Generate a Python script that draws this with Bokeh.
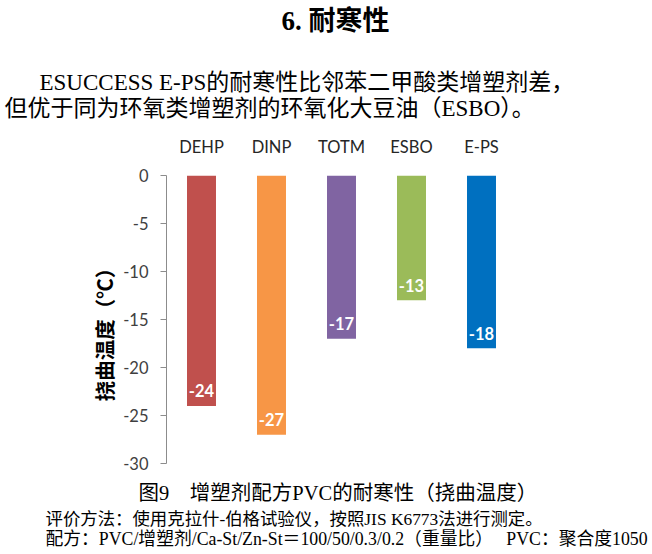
from bokeh.plotting import figure
from bokeh.models import ColumnDataSource, FactorRange, Range1d, FixedTicker, Label
from bokeh.core.properties import value
from bokeh.embed import file_html
from bokeh.resources import INLINE
import math

# ---- data ----
categories = ["DEHP", "DINP", "TOTM", "ESBO", "E-PS"]
temps = [-24, -27, -17, -13, -18]
bar_colors = ["#C0504D", "#F79646", "#8064A2", "#9BBB59", "#0070C0"]
y_ticks = [0, -5, -10, -15, -20, -25, -30]

title_text = "6. 耐寒性"
para_line1 = "ESUCCESS E-PS的耐寒性比邻苯二甲酸类增塑剂差，"
para_line2 = "但优于同为环氧类增塑剂的环氧化大豆油（ESBO）。"
y_label = "挠曲温度（℃）"
caption = "图9　增塑剂配方PVC的耐寒性（挠曲温度）"
note1 = "评价方法：使用克拉什-伯格试验仪，按照JIS K6773法进行测定。"
note2 = "配方：PVC/增塑剂/Ca-St/Zn-St＝100/50/0.3/0.2（重量比）　 PVC：聚合度1050"

SERIF = "Liberation Serif, Noto Sans CJK SC"

src = ColumnDataSource(dict(
    cat=categories,
    val=temps,
    color=bar_colors,
    label=[str(v) for v in temps],
))

W, H = 652, 554
ML, MT, FW, FH = 166, 175, 350, 288

p = figure(
    width=W, height=H,
    x_range=FactorRange(*categories),
    y_range=Range1d(-30, 0),
    x_axis_location="above",
    output_backend="svg",
    toolbar_location=None,
    min_border_left=ML, min_border_top=MT,
    min_border_right=W - ML - FW, min_border_bottom=H - MT - FH,
)
p.outline_line_color = None
p.xgrid.grid_line_color = None
p.ygrid.grid_line_color = None
p.background_fill_color = "white"
p.border_fill_color = "white"

p.vbar(x="cat", top=0, bottom="val", width=0.414, fill_color="color",
       line_color=None, source=src)

p.text(x="cat", y="val", text="label", source=src, text_color="white",
       text_font=value("Lato"), text_font_style="bold", text_font_size="16.5px",
       text_align="center", text_baseline="middle", y_offset=-15)

# x axis (above)
xa = p.xaxis[0]
xa.axis_line_color = None
xa.major_tick_line_color = None
xa.minor_tick_line_color = None
xa.major_label_text_font = "Lato"
xa.major_label_text_font_size = "16.5px"
xa.major_label_text_color = "#262626"
xa.major_label_standoff = 13

# y axis
ya = p.yaxis[0]
ya.ticker = FixedTicker(ticks=y_ticks)
ya.major_label_overrides = {t: str(t) for t in y_ticks}
ya.axis_line_color = "#8c8c8c"
ya.major_tick_line_color = "#8c8c8c"
ya.minor_tick_line_color = None
ya.major_tick_in = 0
ya.major_tick_out = 6
ya.major_label_text_font = "Lato"
ya.major_label_text_font_size = "16.5px"
ya.major_label_text_color = "#404040"
ya.major_label_standoff = 12


def add_text(side, txt, px, py, size, align="left", bold=False, font=SERIF, angle=0.0, color="black"):
    p.add_layout(Label(x=px, y=py, x_units="canvas", y_units="canvas",
                       text=txt, text_font=font, text_font_size=f"{size}px",
                       text_font_style="bold" if bold else "normal",
                       text_align=align, text_baseline="middle",
                       angle=angle, text_color=color), side)


add_text("above", title_text, 335, 20, 27, align="center", bold=True)
add_text("above", para_line1, 39, 82, 23)
add_text("above", para_line2, 4, 108, 23)
add_text("left", y_label, 103, 329, 20.5, align="center", bold=True, font="Noto Sans CJK SC", angle=math.pi / 2)
add_text("below", caption, 138, 492, 20.5)
add_text("below", note1, 45, 518, 17.4)
add_text("below", note2, 45, 538, 17.8)

open("out.html", "w").write(file_html(p, INLINE))
